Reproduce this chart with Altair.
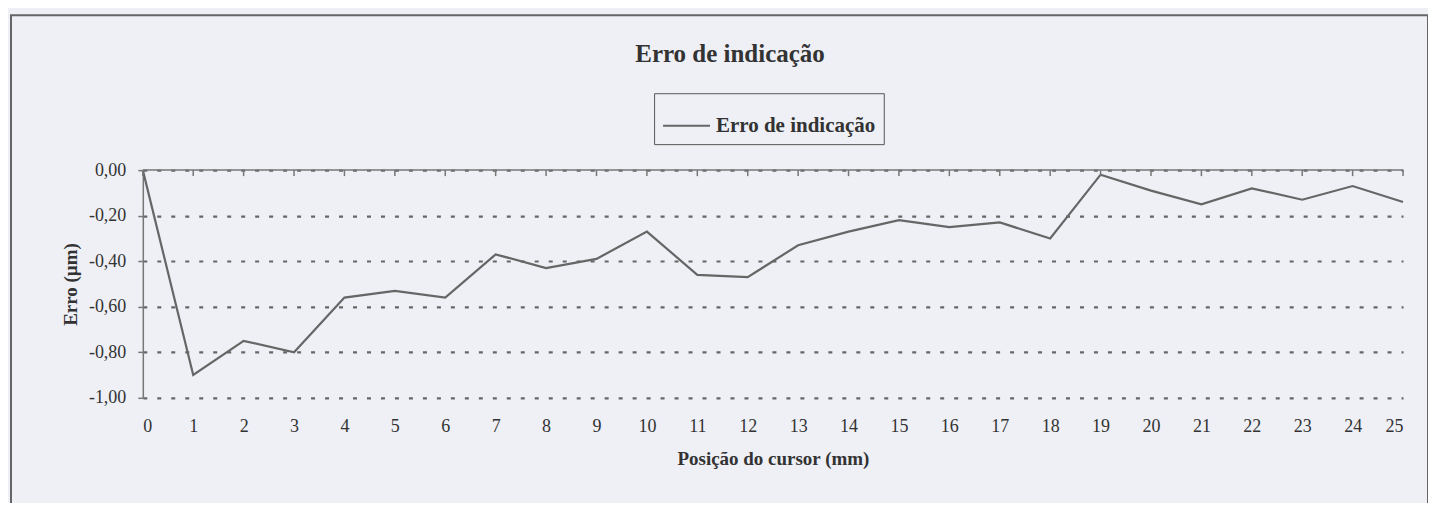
import altair as alt
import pandas as pd

# Data
posicao = list(range(0, 26))
erro = [0.00, -0.90, -0.75, -0.80, -0.56, -0.53, -0.56, -0.37, -0.43, -0.39,
        -0.27, -0.46, -0.47, -0.33, -0.27, -0.22, -0.25, -0.23, -0.30, -0.02,
        -0.09, -0.15, -0.08, -0.13, -0.07, -0.14]
serie = "Erro de indicação"
y_ticks = [0.0, -0.2, -0.4, -0.6, -0.8, -1.0]

df = pd.DataFrame({"pos": posicao, "erro": erro, "serie": [serie] * len(posicao)})
ticks_df = pd.DataFrame({"pos": posicao})
frame_df = pd.DataFrame({"k": [0]})

FONT = "Liberation Serif"
BG = "#eef0f6"
W, H = 1262, 228

x_scale = alt.Scale(domain=[0, 25], nice=False, zero=False)
y_scale = alt.Scale(domain=[-1.0, 0.0], nice=False)

line = alt.Chart(df).mark_line(strokeWidth=2.2).encode(
    x=alt.X("pos:Q", scale=x_scale,
            axis=alt.Axis(values=posicao, orient="bottom", domain=False, ticks=False,
                          grid=False, labelPadding=20, labelFontSize=18, labelFont=FONT,
                          labelColor="#333", title="Posição do cursor (mm)",
                          titleFont=FONT, titleFontSize=19, titleFontWeight="bold",
                          titleColor="#333", titlePadding=14)),
    y=alt.Y("erro:Q", scale=y_scale,
            axis=alt.Axis(values=y_ticks, orient="left", domain=True, domainColor="#777",
                          domainWidth=1.5, ticks=True, tickSize=5, tickColor="#777",
                          tickWidth=1.5, labelPadding=12, labelFontSize=18, labelFont=FONT,
                          labelColor="#333",
                          labelExpr="replace(replace(format(datum.value, '.2f'), '.', ','), '\u2212', '-')",
                          grid=True, gridDash=[4, 10], gridWidth=2.2, gridColor="#666",
                          title="Erro (µm)", titleFont=FONT, titleFontSize=19,
                          titleFontWeight="bold", titleColor="#333", titlePadding=8)),
    color=alt.Color("serie:N", scale=alt.Scale(range=["#666666"]),
                    legend=alt.Legend(title=None, orient="none", legendX=512, legendY=-77,
                                      symbolType="stroke", symbolSize=2209,
                                      symbolStrokeWidth=2, labelFont=FONT,
                                      labelFontSize=21, labelFontWeight="bold",
                                      labelColor="#333", labelOffset=5,
                                      padding=8, strokeColor="#555", fillColor=BG)),
)

top_axis = alt.Chart(frame_df).mark_rule(color="#777", strokeWidth=1.5).encode(
    y=alt.datum(0, scale=y_scale)
)

top_ticks = alt.Chart(ticks_df).mark_rule(color="#777", strokeWidth=1.5).encode(
    x=alt.X("pos:Q", scale=x_scale), y=alt.value(0), y2=alt.value(6)
)

frame = alt.Chart(frame_df).mark_rect(filled=False, stroke="#666", strokeWidth=2).encode(
    x=alt.value(-132), x2=alt.value(1287), y=alt.value(-155), y2=alt.value(337)
)

chart = alt.layer(frame, line, top_axis, top_ticks).properties(
    width=W, height=H,
    padding={"left": 135, "top": 162, "right": 25, "bottom": 105},
    autosize=alt.AutoSizeParams(type="none"),
    background=BG,
    title=alt.TitleParams(serie, font=FONT, fontSize=25, fontWeight="bold", color="#333",
                          anchor="middle", frame="group", dx=-43, offset=22, dy=75),
).configure_view(stroke=None)

chart.save("out.html", embed_options={"renderer": "svg", "actions": False})
